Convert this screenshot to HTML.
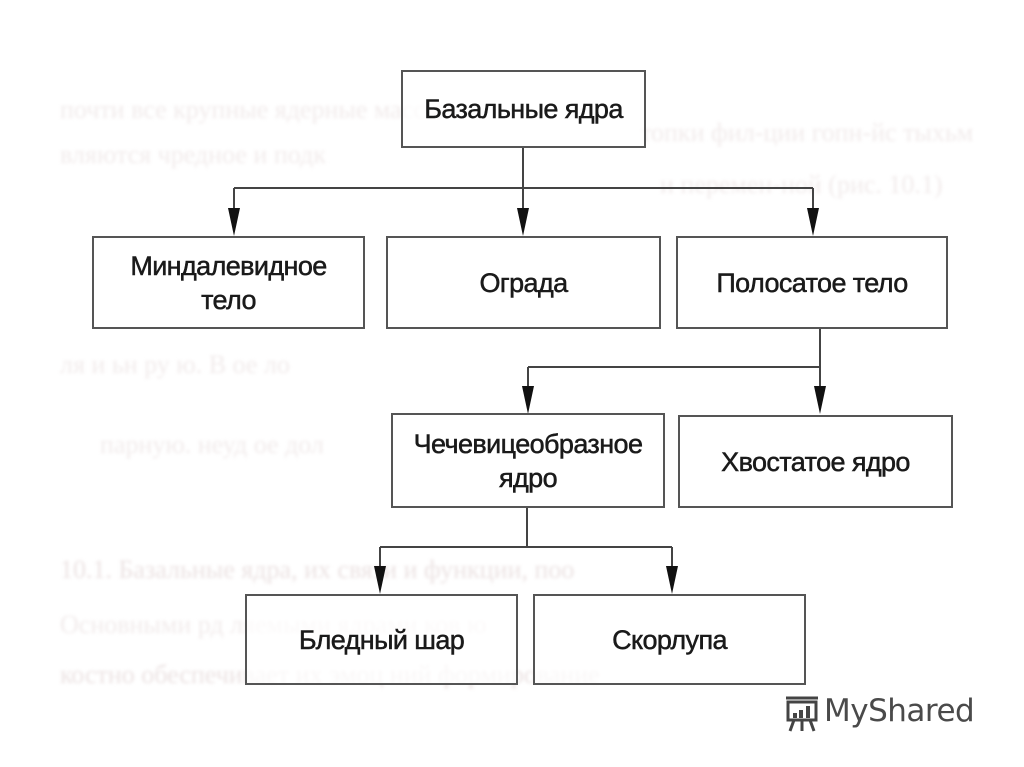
<!DOCTYPE html>
<html><head><meta charset="utf-8"><style>
html,body{margin:0;padding:0;background:#fff;}
body{width:1024px;height:767px;position:relative;overflow:hidden;font-family:"Liberation Sans",sans-serif;}
.bg{position:absolute;color:#f1ebeb;font-size:26px;white-space:nowrap;filter:blur(1.5px);font-family:"Liberation Serif",serif;}
.b{position:absolute;border:2px solid #555;box-sizing:border-box;display:flex;align-items:center;justify-content:center;text-align:center;font-size:27px;line-height:34px;color:#1a1a1a;letter-spacing:-0.6px;-webkit-text-stroke:0.5px #1a1a1a;background:rgba(255,255,255,0.7);}
</style></head><body>
<div class="bg" style="left:60px;top:95px">почти все крупные ядерные массы —</div>
<div class="bg" style="left:640px;top:118px">топки фил-ции гопн-йс тыхьм</div>
<div class="bg" style="left:660px;top:170px">и перемен-ной (рис. 10.1)</div>
<div class="bg" style="left:60px;top:140px">вляются чредное и подк</div>
<div class="bg" style="left:60px;top:350px">ля и ьн ру ю. В ое ло</div>
<div class="bg" style="left:100px;top:430px">парную. неуд ое дол</div>
<div class="bg" style="left:60px;top:555px;color:#ebe2e2">10.1. Базальные ядра, их связи и функции, поо</div>
<div class="bg" style="left:60px;top:610px">Основными рд ляемыми ядрами ков ю</div>
<div class="bg" style="left:60px;top:660px;color:#ebe2e2">костно обеспечивает их эмоц ний формирование</div>
<svg width="1024" height="767" style="position:absolute;left:0;top:0">
<g stroke="#444" stroke-width="2" fill="none">
<path d="M523 147V188M234 188H813M234 188V215M523 188V215M813 188V215"/>
<path d="M820 328V367M528 367H820M528 367V393M820 367V393"/>
<path d="M527 507V547M380 547H672M380 547V573M672 547V573"/>
</g>
<g fill="#111">
<path d="M228 208L240 208L234 236Z"/><path d="M517 208L529 208L523 236Z"/><path d="M807 208L819 208L813 236Z"/>
<path d="M522 386L534 386L528 414Z"/><path d="M814 386L826 386L820 414Z"/>
<path d="M374 566L386 566L380 594Z"/><path d="M666 566L678 566L672 594Z"/>
</g>
</svg>
<div class="b" style="left:401px;top:70px;width:245px;height:78px">Базальные ядра</div>
<div class="b" style="left:92px;top:236px;width:273px;height:93px">Миндалевидное<br>тело</div>
<div class="b" style="left:386px;top:236px;width:275px;height:93px">Ограда</div>
<div class="b" style="left:676px;top:236px;width:272px;height:93px">Полосатое тело</div>
<div class="b" style="left:391px;top:413px;width:274px;height:95px">Чечевицеобразное<br>ядро</div>
<div class="b" style="left:678px;top:415px;width:275px;height:93px">Хвостатое ядро</div>
<div class="b" style="left:245px;top:594px;width:273px;height:91px">Бледный шар</div>
<div class="b" style="left:533px;top:594px;width:273px;height:91px">Скорлупа</div>
<svg width="44" height="40" style="position:absolute;left:782px;top:694px">
<g stroke="#444" stroke-width="3" fill="none">
<rect x="6" y="8" width="28" height="18"/>
<path d="M4 4H36M12 26L8 37M20 26V37M28 26L32 37"/>
</g>
<g fill="#444"><rect x="11" y="19" width="4" height="5"/><rect x="17" y="16" width="4" height="8"/><rect x="24" y="12" width="4" height="12"/></g>
</svg>
<div style="position:absolute;left:824px;top:693px;font-size:31px;color:#4a4a4a;font-family:'DejaVu Sans',sans-serif;letter-spacing:-0.5px">MyShared</div>
</body></html>
